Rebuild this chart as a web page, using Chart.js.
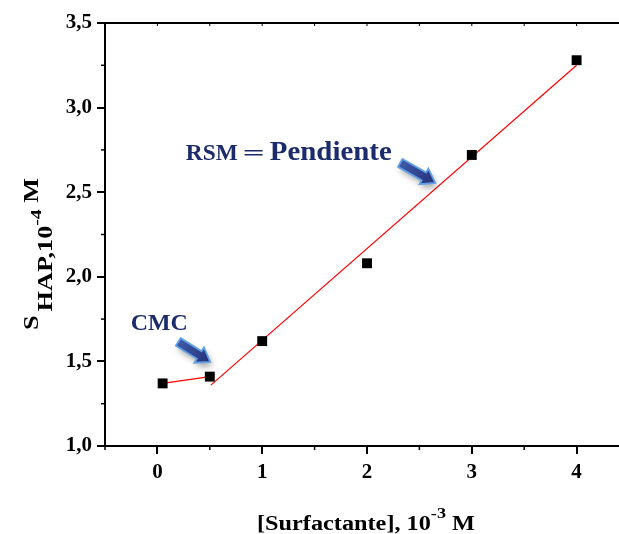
<!DOCTYPE html>
<html><head><meta charset="utf-8">
<script src="https://cdn.jsdelivr.net/npm/chart.js@4"></script>
<style>
html,body{margin:0;padding:0;background:#fff;overflow:hidden;width:619px;height:534px}
#wrap{position:absolute;left:0;top:0;width:640px;height:534px}
</style>
</head><body><div id="wrap"><canvas id="c" width="640" height="534"></canvas></div>
<script>
// ---- data ----
const concentration = [0.05, 0.5, 1, 2, 3, 4];          // [Surfactante], 10^-3 M
const solubility    = [1.37, 1.41, 1.62, 2.08, 2.72, 3.28]; // S_HAP, 10^-4 M
const premicellarX  = [0.05, 0.5];
const premicellarY  = [1.37, 1.41];
const micellarX     = [0.51, 4.0];
const micellarY     = [1.36, 3.25];
const xTickValues   = [0, 1, 2, 3, 4];
const yTickValues   = [1.0, 1.5, 2.0, 2.5, 3.0, 3.5];
const xMinorTicks   = [-0.5, 0.5, 1.5, 2.5, 3.5, 4.5];
const yMinorTicks   = [1.25, 1.75, 2.25, 2.75, 3.25];
const labelCMC      = 'CMC';
const labelRSM      = ['RSM', '=', 'Pendiente'];

const SERIF = '"Liberation Serif", "Times New Roman", serif';
const NAVY = '#1c2b6b';
const pts = (xs, ys) => xs.map((x, i) => ({x: x, y: ys[i]}));

function fitText(ctx, text, font, x, y, w) {
  ctx.save();
  ctx.font = font;
  const m = ctx.measureText(text).width;
  ctx.translate(x, y);
  ctx.scale(w ? w / m : 1, 1);
  ctx.fillText(text, 0, 0);
  ctx.restore();
}

function drawArrow(ctx, x1, y1, x2, y2) {
  const L = Math.hypot(x2 - x1, y2 - y1);
  const a = Math.atan2(y2 - y1, x2 - x1);
  ctx.save();
  ctx.translate(x1, y1);
  ctx.rotate(a);
  const hl = 13, sw = 4.5, hw = 9;
  ctx.beginPath();
  ctx.moveTo(0, -sw);
  ctx.lineTo(L - hl, -sw);
  ctx.lineTo(L - hl, -hw);
  ctx.lineTo(L, 0);
  ctx.lineTo(L - hl, hw);
  ctx.lineTo(L - hl, sw);
  ctx.lineTo(0, sw);
  ctx.closePath();
  ctx.shadowColor = 'rgba(0,0,0,0.35)';
  ctx.shadowBlur = 6;
  ctx.shadowOffsetX = 2;
  ctx.shadowOffsetY = 4;
  const g = ctx.createLinearGradient(0, 0, L, 0);
  g.addColorStop(0, '#3d5aa8');
  g.addColorStop(1, '#27307a');
  ctx.fillStyle = g;
  ctx.fill();
  ctx.shadowColor = 'transparent';
  ctx.strokeStyle = '#62a0e4';
  ctx.lineWidth = 1.8;
  ctx.stroke();
  ctx.restore();
}

const decor = {
  id: 'decor',
  afterDraw(chart) {
    const ctx = chart.ctx;
    const xs = chart.scales.x, ys = chart.scales.y;
    const ca = chart.chartArea;
    ctx.save();
    ctx.strokeStyle = '#000';
    // minor ticks
    ctx.lineWidth = 1.5;
    xMinorTicks.forEach(v => {
      const px = xs.getPixelForValue(v);
      ctx.beginPath(); ctx.moveTo(px, ca.bottom); ctx.lineTo(px, ca.bottom + 4); ctx.stroke();
    });
    yMinorTicks.forEach(v => {
      const py = ys.getPixelForValue(v);
      ctx.beginPath(); ctx.moveTo(ca.left, py); ctx.lineTo(ca.left - 4, py); ctx.stroke();
    });
    // top frame with small inward ticks
    ctx.lineWidth = 1.8;
    ctx.beginPath(); ctx.moveTo(ca.left, ca.top); ctx.lineTo(ca.right, ca.top); ctx.stroke();
    ctx.lineWidth = 1;
    xTickValues.concat(xMinorTicks).forEach(v => {
      const px = xs.getPixelForValue(v);
      ctx.beginPath(); ctx.moveTo(px, ca.top); ctx.lineTo(px, ca.top + 3); ctx.stroke();
    });
    ctx.restore();

    // x axis title
    ctx.save();
    ctx.fillStyle = '#000';
    ctx.textBaseline = 'alphabetic';
    const mainF = 'bold 20px ' + SERIF, supF = 'bold 15px ' + SERIF;
    ctx.font = mainF; const w1 = ctx.measureText('[Surfactante], 10').width;
    ctx.font = supF;  const w2 = ctx.measureText('-3').width;
    ctx.font = mainF; const w3 = ctx.measureText(' M').width;
    const tot = w1 + w2 + w3, target = 218, sx = target / tot;
    const cx = (ca.left + ca.right) / 2 - 1;
    ctx.translate(cx - target / 2, 530);
    ctx.scale(sx, 1);
    ctx.font = mainF; ctx.fillText('[Surfactante], 10', 0, 0);
    ctx.font = supF;  ctx.fillText('-3', w1, -12);
    ctx.font = mainF; ctx.fillText(' M', w1 + w2, 0);
    ctx.restore();

    // y axis title (rotated)
    ctx.save();
    ctx.fillStyle = '#000';
    const yF = 'bold 20px ' + SERIF, ySup = 'bold 15px ' + SERIF;
    ctx.font = yF;
    const a1 = ctx.measureText('S').width + 3;
    const a2 = ctx.measureText('HAP,10').width;
    ctx.font = ySup; const a3 = ctx.measureText('-4').width;
    ctx.font = yF; const a4 = ctx.measureText(' M').width;
    const ytot = a1 + a2 + a3 + a4, ytarget = 152, ysx = ytarget / ytot;
    ctx.translate(38, 254);
    ctx.rotate(-Math.PI / 2);
    ctx.translate(-ytarget / 2, 0);
    ctx.scale(ysx, 1);
    ctx.font = yF;   ctx.fillText('S', 0, 0);
    ctx.font = yF;   ctx.fillText('HAP,10', a1, 14);
    ctx.font = ySup; ctx.fillText('-4', a1 + a2, 3);
    ctx.font = yF;   ctx.fillText(' M', a1 + a2 + a3, 0);
    ctx.restore();

    // annotations
    ctx.save();
    ctx.fillStyle = NAVY;
    const cmcX = xs.getPixelForValue(-0.254), cmcY = ys.getPixelForValue(1.685);
    fitText(ctx, labelCMC, 'bold 23px ' + SERIF, cmcX, cmcY, 57);
    const rX = xs.getPixelForValue(0.271), rY = ys.getPixelForValue(2.691);
    fitText(ctx, labelRSM[0], 'bold 23px ' + SERIF, rX, rY, 52);
    fitText(ctx, labelRSM[1], 'bold 22px ' + SERIF, rX + 57, rY, 22);
    fitText(ctx, labelRSM[2], 'bold 27px ' + SERIF, rX + 84, rY, 122);
    ctx.restore();
    drawArrow(ctx, xs.getPixelForValue(0.199), ys.getPixelForValue(1.615),
                   xs.getPixelForValue(0.504), ys.getPixelForValue(1.497));
    drawArrow(ctx, xs.getPixelForValue(2.317), ys.getPixelForValue(2.673),
                   xs.getPixelForValue(2.651), ys.getPixelForValue(2.555));
  }
};

const tickFont = {family: SERIF, size: 21, weight: 'bold'};
new Chart(document.getElementById('c'), {
  type: 'scatter',
  data: {
    datasets: [
      {data: pts(concentration, solubility), pointStyle: 'rect', pointRadius: 7,
       backgroundColor: '#000', borderColor: '#000', borderWidth: 0, showLine: false},
      {data: pts(premicellarX, premicellarY), showLine: true, borderColor: '#ff0000',
       borderWidth: 1.2, pointRadius: 0, fill: false},
      {data: pts(micellarX, micellarY), showLine: true, borderColor: '#ff0000',
       borderWidth: 1.2, pointRadius: 0, fill: false}
    ]
  },
  options: {
    responsive: false, animation: false, devicePixelRatio: 1,
    layout: {padding: {top: 23, right: 11, left: 0, bottom: 0}},
    plugins: {legend: {display: false}, tooltip: {enabled: false}},
    scales: {
      x: {
        type: 'linear', min: -0.5, max: 4.5,
        afterBuildTicks: s => { s.ticks = xTickValues.map(v => ({value: v})); },
        afterFit: s => { s.height = 88; },
        ticks: {font: tickFont, color: '#000', padding: 6, maxRotation: 0, autoSkip: false,
                callback: v => String(v)},
        grid: {display: true, drawOnChartArea: false, drawTicks: true, tickLength: 8,
               color: '#000', lineWidth: 2},
        border: {display: true, color: '#000', width: 2}
      },
      y: {
        type: 'linear', min: 1.0, max: 3.5,
        afterBuildTicks: s => { s.ticks = yTickValues.map(v => ({value: v})); },
        afterFit: s => { s.width = 105; },
        ticks: {font: tickFont, color: '#000', padding: 5, autoSkip: false,
                callback: v => v.toFixed(1).replace('.', ',')},
        grid: {display: true, drawOnChartArea: false, drawTicks: true, tickLength: 8,
               color: '#000', lineWidth: 2},
        border: {display: true, color: '#000', width: 2}
      }
    }
  },
  plugins: [decor]
});
</script>
</body></html>
